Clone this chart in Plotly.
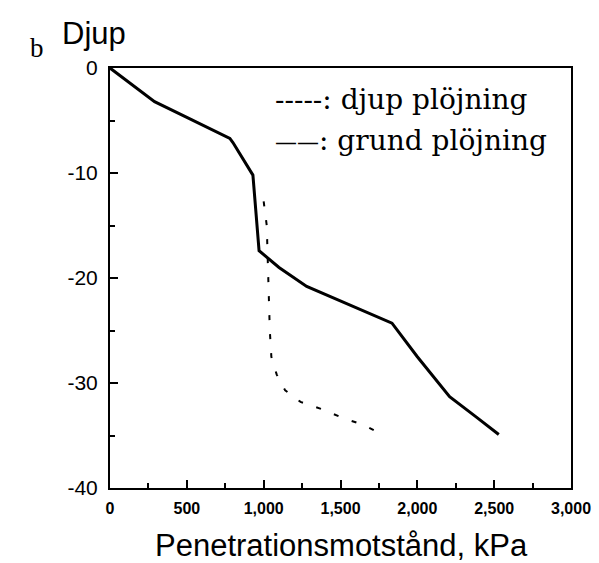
import plotly.graph_objects as go

# grund plöjning (solid)
grund_x = [0, 290, 500, 780, 800, 930, 970, 1100, 1280, 1680, 1835, 2000, 2210, 2380, 2530]
grund_y = [0, -3.2, -4.7, -6.7, -7.1, -10.2, -17.4, -19.0, -20.8, -23.3, -24.3, -27.5, -31.3, -33.2, -34.9]

# djup plöjning (dashed)
djup_x = [1000, 1020, 1030, 1040, 1050, 1085, 1140, 1240, 1380, 1510, 1650, 1770]
djup_y = [-12.7, -15.0, -20.0, -25.0, -27.5, -29.2, -30.7, -31.8, -32.5, -33.3, -34.0, -34.9]

x_ticks = [0, 500, 1000, 1500, 2000, 2500, 3000]
y_ticks = [0, -10, -20, -30, -40]

legend_labels = ["-----: djup plöjning",
                 "<span style='font-size:22px'>——</span>: grund plöjning"]

SANS = "Liberation Sans, Arial, sans-serif"
SERIF = "DejaVu Serif, serif"

fig = go.Figure()
fig.add_trace(go.Scatter(x=djup_x, y=djup_y, mode="lines", name="djup plöjning",
                         line=dict(color="black", width=2, dash="5px,14px")))
fig.add_trace(go.Scatter(x=grund_x, y=grund_y, mode="lines", name="grund plöjning",
                         line=dict(color="black", width=3)))

L, R, T, B = 110, 28, 68, 75
W, H = 599, 563
pw = W - L - R
ph = H - T - B


def px(x):
    return (x - L) / pw


def py(y):
    return 1 - (y - T) / ph


fig.update_layout(
    width=W, height=H,
    margin=dict(l=L, r=R, t=T, b=B),
    paper_bgcolor="white", plot_bgcolor="white",
    showlegend=False,
    xaxis=dict(range=[0, 3000], tickvals=x_ticks, ticktext=[f"<b>{v:,}</b>" for v in x_ticks],
               ticks="inside", ticklen=8, tickwidth=1.5, tickcolor="black",
               minor=dict(dtick=250, ticks="inside", ticklen=5, tickcolor="black"),
               showline=True, linecolor="black", linewidth=2, mirror=True,
               showgrid=False, zeroline=False, automargin=False, ticklabelstandoff=5,
               tickfont=dict(family=SANS, size=16, color="black")),
    yaxis=dict(range=[-40, 0], tickvals=y_ticks, ticktext=[str(v) for v in y_ticks],
               ticks="inside", ticklen=8, tickwidth=1.5, tickcolor="black",
               minor=dict(dtick=5, ticks="inside", ticklen=5, tickcolor="black"),
               showline=True, linecolor="black", linewidth=2, mirror=True,
               showgrid=False, zeroline=False, ticklabelstandoff=6, automargin=False,
               tickfont=dict(family=SANS, size=21, color="black")),
    annotations=[
        dict(text="Penetrationsmotstånd, kPa", x=px(341), y=py(545), xref="paper", yref="paper",
             showarrow=False, xanchor="center", yanchor="middle",
             font=dict(family=SANS, size=31, color="black")),
        dict(text="Djup", x=px(60), y=py(14), xref="paper", yref="paper", showarrow=False,
             xanchor="left", yanchor="top",
             font=dict(family=SANS, size=31, color="black")),
        dict(text="b", x=px(28), y=py(48), xref="paper", yref="paper", showarrow=False,
             xanchor="left", yanchor="middle",
             font=dict(family="Liberation Serif, serif", size=27, color="black")),
        dict(text=legend_labels[0], x=px(273), y=py(100), xref="paper", yref="paper",
             showarrow=False, xanchor="left", yanchor="middle",
             font=dict(family=SERIF, size=28, color="black")),
        dict(text=legend_labels[1], x=px(273), y=py(140), xref="paper", yref="paper",
             showarrow=False, xanchor="left", yanchor="middle",
             font=dict(family=SERIF, size=28, color="black")),
    ],
)

fig.write_html("out.html")
